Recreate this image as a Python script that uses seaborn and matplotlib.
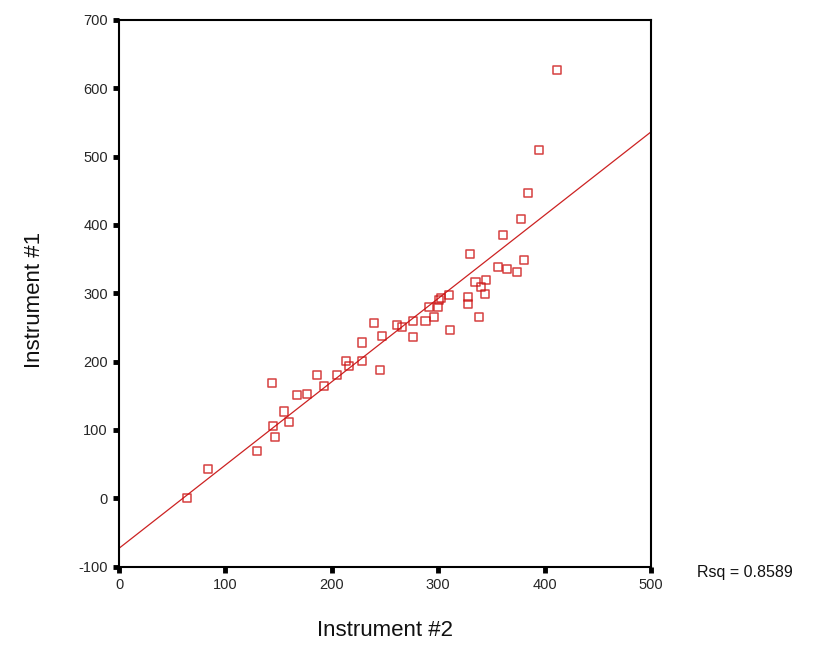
import matplotlib
matplotlib.use("Agg")
import matplotlib.pyplot as plt
import seaborn as sns
import pandas as pd

# Paired readings from the two instruments
instrument2 = [64, 84, 130, 145, 147, 144, 155, 160, 167, 177,
               186, 193, 205, 213, 216, 228, 228, 240, 245, 247,
               261, 266, 276, 276, 288, 291, 296, 300, 301, 303,
               310, 311, 328, 328, 330, 335, 340, 338, 345, 344,
               356, 361, 365, 374, 378, 381, 384, 395, 412]
instrument1 = [0, 43, 69, 106, 90, 169, 127, 112, 151, 153,
               180, 164, 180, 201, 194, 201, 228, 257, 188, 238,
               254, 251, 260, 236, 259, 280, 265, 280, 290, 293,
               297, 246, 294, 284, 357, 317, 309, 265, 320, 299,
               338, 386, 336, 331, 409, 349, 447, 510, 627]

x_ticks = [0, 100, 200, 300, 400, 500]
y_ticks = [-100, 0, 100, 200, 300, 400, 500, 600, 700]
rsq_text = "Rsq = 0.8589"

df = pd.DataFrame({"Instrument #2": instrument2, "Instrument #1": instrument1})

sns.set_theme(style="white")
plt.rcParams["font.family"] = ["Liberation Sans", "DejaVu Sans"]
plt.rcParams["axes.unicode_minus"] = False

fig = plt.figure(figsize=(8.37, 6.64), dpi=100)
ax = fig.add_axes([0.1422, 0.1466, 0.6356, 0.8233])
ax.set_xlim(0, 500)
ax.set_ylim(-100, 700)

sns.regplot(data=df, x="Instrument #2", y="Instrument #1", ax=ax,
            ci=None, truncate=False,
            marker="s",
            scatter_kws=dict(s=34, facecolors="none", edgecolors="#cc1111",
                             linewidths=1.1, zorder=3),
            line_kws=dict(color="#cc2222", lw=0.9, zorder=2))

ax.set_xlim(0, 500)
ax.set_ylim(-100, 700)
ax.set_xticks(x_ticks)
ax.set_yticks(y_ticks)
ax.tick_params(axis="both", direction="out", length=4, width=3.5,
               color="black", labelsize=10.5, pad=4, bottom=True, left=True)
for s in ax.spines.values():
    s.set_visible(True)
    s.set_color("black")
    s.set_linewidth(1.5)

ax.set_xlabel("Instrument #2", fontsize=16, color="#111111")
ax.set_ylabel("Instrument #1", fontsize=16, color="#111111")
ax.xaxis.set_label_coords(0.5, -0.1176)
ax.xaxis.label.set_va("center")
ax.yaxis.set_label_coords(-0.158, 0.4876)
ax.yaxis.label.set_va("center")

fig.text(0.833, 0.131, rsq_text, fontsize=11.5, color="#111111", ha="left", va="baseline")

fig.savefig("out.png", dpi=100, facecolor="white")
